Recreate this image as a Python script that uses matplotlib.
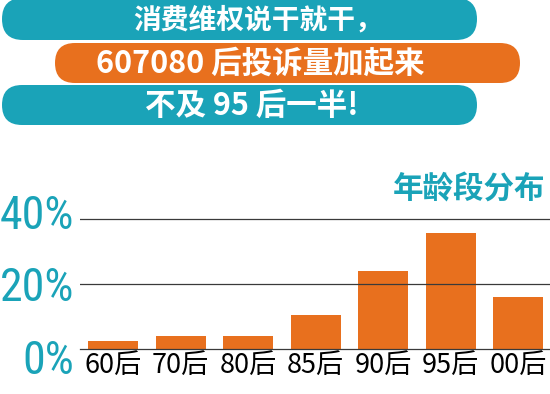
import matplotlib
matplotlib.use("Agg")
import matplotlib.pyplot as plt
import matplotlib.transforms as mtransforms
from matplotlib import font_manager
from matplotlib.patches import FancyBboxPatch

# data
categories = ["60后", "70后", "80后", "85后", "90后", "95后", "00后"]
shares = [2.5, 4.0, 4.0, 10.5, 24.0, 35.7, 16.0]
y_ticks = [0, 20, 40]
y_tick_labels = ["0%", "20%", "40%"]
title_lines = ["消费维权说干就干，", "607080 后投诉量加起来", "不及 95 后一半!"]
subtitle = "年龄段分布"

teal = "#1aa3b8"
orange = "#e8701e"
cjk = ["Noto Sans CJK SC", "DejaVu Sans"]

# pick the narrowest available font for the big percent labels
installed = set(f.name for f in font_manager.fontManager.ttflist)
narrow = "DejaVu Sans"
for name in ["Roboto Condensed", "Liberation Sans Narrow", "DejaVu Sans Condensed", "Liberation Sans"]:
    if name in installed:
        narrow = name
        break

plt.rcParams["font.family"] = cjk

W, H = 550, 394
fig = plt.figure(figsize=(W / 100, H / 100), dpi=100)

# pixel coords with top-left origin
pix = mtransforms.Affine2D().scale(1 / W, -1 / H).translate(0, 1) + fig.transFigure

# title banners: (x0, y0, x1, y1, colour) in pixels
banners = [(2, -2, 477, 40, teal), (55, 43, 520, 83, orange), (2, 85, 477, 125, teal)]
text_x = [258, 260, 252]
text_size = [20, 22, 22]
for (x0, y0, x1, y1, col), line, tx, fs in zip(banners, title_lines, text_x, text_size):
    h = y1 - y0
    fig.patches.append(FancyBboxPatch(
        (x0, y0), x1 - x0, h,
        boxstyle="round,pad=0,rounding_size=%f" % (h / 2),
        transform=pix, facecolor=col, edgecolor="none"))
    fig.text(tx, (y0 + y1) / 2 + 1, line, transform=pix, color="white",
             fontsize=fs, fontweight="bold", ha="center", va="center")

# bar chart
ax = fig.add_axes([80 / W, (H - 349) / H, 470 / W, 149 / H])
x = range(len(categories))
ax.bar(x, shares, width=0.74, color=orange, zorder=2)
ax.set_xlim(-0.49, 6.47)
ax.set_ylim(0, 45.8)

for g in [20, 40]:
    ax.axhline(g, color="#3a3a3a", lw=0.9, zorder=3)
for s in ["top", "right", "left"]:
    ax.spines[s].set_visible(False)
ax.spines["bottom"].set_color("#3a3a3a")
ax.spines["bottom"].set_linewidth(0.9)

ax.set_xticks(list(x))
ax.set_xticklabels(categories, fontsize=19.5)
ax.tick_params(axis="x", length=0, pad=2)

ax.set_yticks(y_ticks)
ax.set_yticklabels(y_tick_labels, family=narrow, fontsize=33, color=teal)
ax.tick_params(axis="y", length=0, pad=4)
# the big labels sit a little off their grid lines in the original
for lab, dy in zip(ax.get_yticklabels(), [-8, 0, 7]):
    lab.set_transform(lab.get_transform() +
                      mtransforms.ScaledTranslation(0, dy / 100, fig.dpi_scale_trans))

fig.text(545, 190, subtitle, transform=pix, color=teal, fontsize=22,
         fontweight="bold", ha="right", va="center")

fig.savefig("out.png", dpi=100)
